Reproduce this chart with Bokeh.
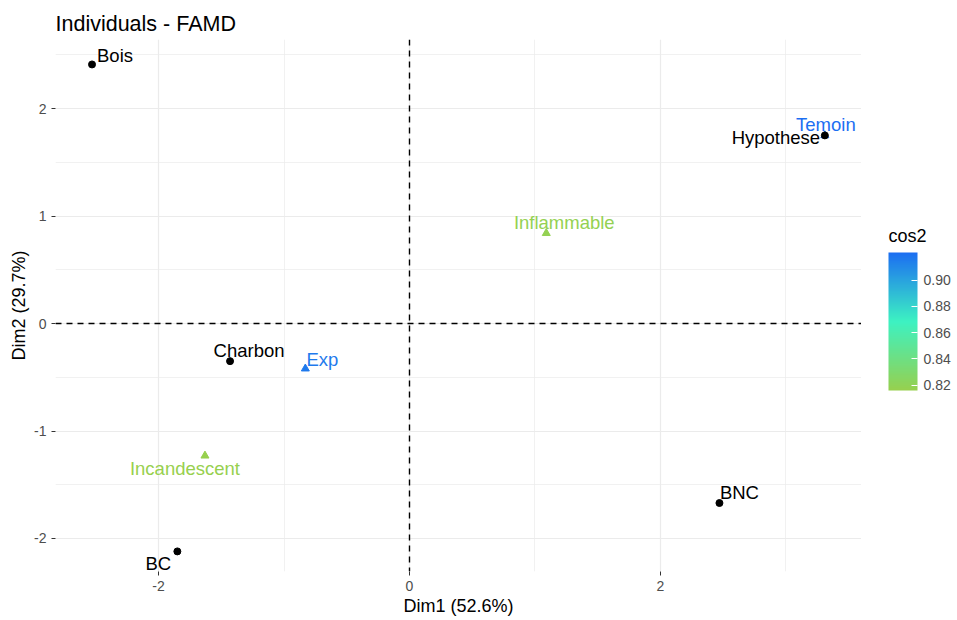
from bokeh.plotting import figure
from bokeh.layouts import row
from bokeh.core.properties import value
from bokeh.models import (Range1d, ColorBar, LinearColorMapper, FixedTicker,
                          Span, ColumnDataSource, PrintfTickFormatter, LabelSet)
from bokeh.embed import file_html
from bokeh.resources import INLINE

# Individuals (black points)
ind_names = ["Bois", "Hypothese", "Charbon", "BC", "BNC"]
ind_x = [-2.53, 3.31, -1.43, -1.85, 2.47]
ind_y = [2.41, 1.75, -0.35, -2.12, -1.67]

# Qualitative categories (triangles coloured by cos2)
cat_names = ["Temoin", "Inflammable", "Exp", "Incandescent"]
cat_x = [3.31, 1.09, -0.83, -1.63]
cat_y = [1.75, 0.84, -0.42, -1.23]
cat_cos2 = [0.921, 0.818, 0.916, 0.816]

x_ticks = [-2, 0, 2]
y_ticks = [-2, -1, 0, 1, 2]
cos2_ticks = [0.82, 0.84, 0.86, 0.88, 0.90]

# label offsets in screen pixels (right, up) so texts sit beside their marks
ind_dx = [23, -49, 19, -19, 20]
ind_dy = [9, -2, 11, -12, 11]
cat_dx = [1, 18, 17, -20]
cat_dy = [11, 11, 9, -13]

FONT = "Liberation Sans"


def gradient(stops, n=256):
    rgb = [tuple(int(s[i:i + 2], 16) for i in (1, 3, 5)) for s in stops]
    out = []
    seg = len(rgb) - 1
    for k in range(n):
        t = k / (n - 1) * seg
        j = min(int(t), seg - 1)
        f = t - j
        c = [round(rgb[j][m] + (rgb[j + 1][m] - rgb[j][m]) * f) for m in range(3)]
        out.append("#%02x%02x%02x" % tuple(c))
    return out


palette = gradient(["#97D04E", "#3DF2C2", "#1C6EF2"])
mapper = LinearColorMapper(palette=palette, low=min(cat_cos2), high=max(cat_cos2))

# ---- main scatter panel ----
p = figure(width=861, height=620,
           x_range=Range1d(-2.821, 3.602), y_range=Range1d(-2.307, 2.642),
           output_backend="svg", toolbar_location=None,
           min_border_left=55, min_border_right=0,
           min_border_top=39, min_border_bottom=49,
           title="Individuals - FAMD",
           x_axis_label="Dim1 (52.6%)", y_axis_label="Dim2 (29.7%)")

p.background_fill_color = "white"
p.border_fill_color = "white"
p.outline_line_color = None

p.title.text_font = FONT
p.title.text_font_size = "21.5px"
p.title.text_font_style = "normal"
p.title.text_color = "black"
p.title.standoff = 8

p.xaxis.ticker = FixedTicker(ticks=x_ticks, minor_ticks=[-3, -1, 1, 3])
p.yaxis.ticker = FixedTicker(ticks=y_ticks, minor_ticks=[-2.5, -1.5, -0.5, 0.5, 1.5, 2.5])

for ax in (p.xaxis, p.yaxis):
    ax.formatter = PrintfTickFormatter(format="%d")
    ax.axis_line_color = None
    ax.major_tick_line_color = "#333333"
    ax.major_tick_out = 4
    ax.major_tick_in = 0
    ax.minor_tick_line_color = None
    ax.major_label_text_font = FONT
    ax.major_label_text_font_size = "14px"
    ax.major_label_text_color = "#4D4D4D"
    ax.axis_label_text_font = FONT
    ax.axis_label_text_font_size = "18px"
    ax.axis_label_text_font_style = "normal"
    ax.axis_label_text_color = "black"
p.xaxis.major_label_standoff = 5
p.xaxis.axis_label_standoff = 2
p.yaxis.major_label_standoff = 5
p.yaxis.axis_label_standoff = 2

for g in (p.xgrid, p.ygrid):
    g.grid_line_color = "#EBEBEB"
    g.grid_line_width = 1.2
    g.minor_grid_line_color = "#EBEBEB"
    g.minor_grid_line_width = 0.7

p.add_layout(Span(location=0, dimension="height", line_color="black",
                  line_dash="6 5", line_width=1.4))
p.add_layout(Span(location=0, dimension="width", line_color="black",
                  line_dash="6 5", line_width=1.4))

cat_src = ColumnDataSource(dict(x=cat_x, y=cat_y, name=cat_names, cos2=cat_cos2,
                                dx=cat_dx, dy=cat_dy))
ind_src = ColumnDataSource(dict(x=ind_x, y=ind_y, name=ind_names,
                                dx=ind_dx, dy=ind_dy))

cmap = {"field": "cos2", "transform": mapper}
p.scatter("x", "y", source=cat_src, marker="triangle", size=8,
          fill_color=cmap, line_color=cmap)
p.scatter("x", "y", source=ind_src, marker="circle", size=7,
          fill_color="black", line_color="black")

p.add_layout(LabelSet(x="x", y="y", text="name", source=cat_src,
                      x_offset="dx", y_offset="dy", text_color=cmap,
                      text_font=value(FONT), text_font_size="18.5px",
                      text_align="center", text_baseline="middle"))
p.add_layout(LabelSet(x="x", y="y", text="name", source=ind_src,
                      x_offset="dx", y_offset="dy", text_color="black",
                      text_font=value(FONT), text_font_size="18.5px",
                      text_align="center", text_baseline="middle"))

# ---- legend strip: colour bar with its title ----
# the strip's frame lines up with the main frame (532 px tall); its ranges are in pixels
leg = figure(width=96, height=620, x_range=Range1d(0, 96), y_range=Range1d(0, 532),
             output_backend="svg", toolbar_location=None,
             min_border=0, outline_line_color=None)
leg.axis.visible = False
leg.grid.visible = False
leg.background_fill_color = "white"
leg.border_fill_color = "white"

leg.text(x=[27], y=[336], text=["cos2"], text_font=value(FONT),
         text_font_size="18px", text_color="black",
         text_align="left", text_baseline="middle")

cb = ColorBar(color_mapper=mapper, ticker=FixedTicker(ticks=cos2_ticks),
              formatter=PrintfTickFormatter(format="%.2f"),
              width=29, height=138,
              major_label_text_font=FONT, major_label_text_font_size="14px",
              major_label_text_color="#4D4D4D", label_standoff=6,
              major_tick_line_color="white", major_tick_in=6, major_tick_out=0,
              minor_tick_line_color=None, bar_line_color=None,
              border_line_color=None, background_fill_color=None,
              background_fill_alpha=0,
              padding=0, margin=0, location=(27, 181))
leg.add_layout(cb, "center")

layout = row(p, leg, spacing=0)
open("out.html", "w").write(file_html(layout, INLINE))
